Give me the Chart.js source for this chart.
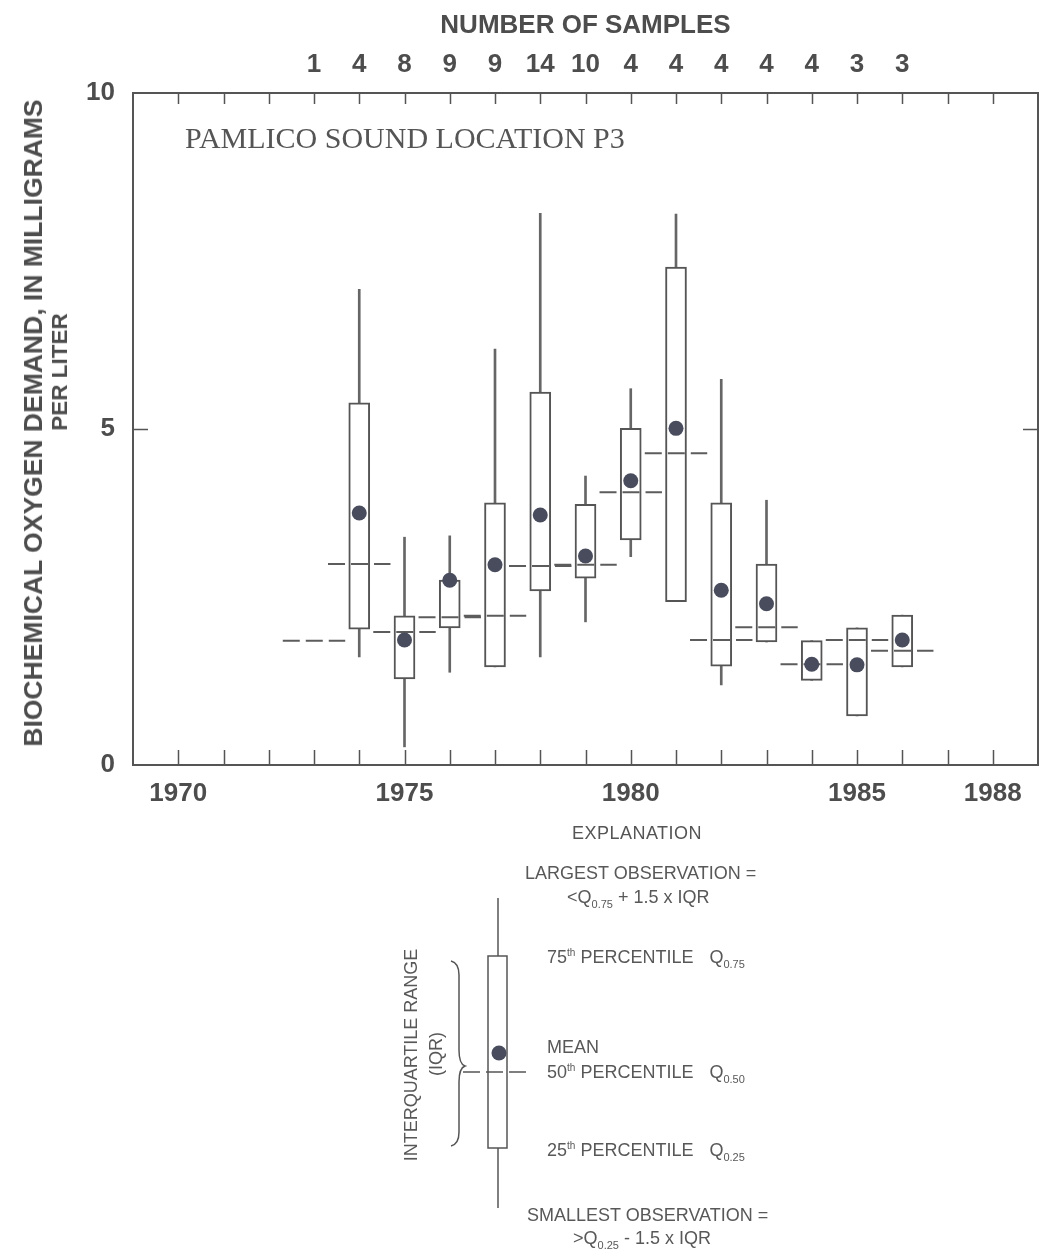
<!DOCTYPE html>
<html>
<head>
<meta charset="utf-8">
<title>Biochemical oxygen demand, Pamlico Sound location P3</title>
<script src="https://cdn.jsdelivr.net/npm/chart.js@4.4.1/dist/chart.umd.min.js"></script>
<style>
  html, body { margin: 0; padding: 0; background: #fff; }
  #page { position: relative; width: 1041px; height: 1254px; overflow: hidden;
          font-family: "Liberation Sans", Arial, sans-serif; color: #555; }
  #chart { position: absolute; left: 0; top: 0; }
  .ytitle { position: absolute; font-weight: bold; font-size: 26.5px; line-height: 30px; color: #4d4d4d;
            white-space: nowrap; transform: translate(-50%, -50%) rotate(-90deg); }
  .ytitle.second { font-size: 22.5px; }
  .site { position: absolute; font-family: "Liberation Serif", "DejaVu Serif", serif; font-size: 30px;
          line-height: 30px; color: #555; white-space: nowrap; }
  .ex { position: absolute; font-size: 18px; line-height: 22px; color: #585858; white-space: nowrap; }
  .ex sub { font-size: 11px; vertical-align: -5px; line-height: 0; }
  .ex sup { font-size: 10px; vertical-align: 7px; line-height: 0; }
  .ex .q { margin-left: 16px; }
  .exhead { position: absolute; left: 537px; width: 200px; text-align: center; font-size: 18px;
            letter-spacing: 0.5px; line-height: 20px; color: #555; }
  .rot { position: absolute; font-size: 18px; line-height: 22px; color: #585858; white-space: nowrap;
         transform: translate(-50%, -50%) rotate(-90deg); }
  #glyph { position: absolute; left: 0; top: 0; }
</style>
</head>
<body>
<div id="page">
  <canvas id="chart" width="1041" height="830"></canvas>

  <div class="ytitle" style="left:33px; top:423px;">BIOCHEMICAL OXYGEN DEMAND, IN MILLIGRAMS</div>
  <div class="ytitle second" style="left:60px; top:372px;">PER LITER</div>
  <div class="site" style="left:185px; top:123px;">PAMLICO SOUND LOCATION P3</div>

  <!-- Explanation of the box symbol -->
  <div class="exhead" style="top:823px;">EXPLANATION</div>
  <svg id="glyph" width="1041" height="1254" viewBox="0 0 1041 1254">
    <g stroke="#555" fill="none" stroke-width="1.5">
      <line x1="498" y1="898" x2="498" y2="956"/>
      <line x1="498" y1="1148" x2="498" y2="1208"/>
      <rect x="488" y="956" width="19" height="192" fill="#fff"/>
      <line x1="463" y1="1072" x2="527" y2="1072" stroke-dasharray="17 6"/>
      <path d="M451 961 Q459 963 459 975 L459 1050 Q459 1064 465 1066 Q459 1068 459 1082 L459 1132 Q459 1144 451 1146"/>
    </g>
    <circle cx="499" cy="1053" r="7.5" fill="#484c5c"/>
  </svg>
  <div class="rot" style="left:411px; top:1055px;">INTERQUARTILE RANGE</div>
  <div class="rot" style="left:436px; top:1054px;">(IQR)</div>

  <div class="ex" style="left:525px; top:862px;">LARGEST OBSERVATION =</div>
  <div class="ex" style="left:567px; top:886px;">&lt;Q<sub>0.75</sub> + 1.5 x IQR</div>
  <div class="ex" style="left:547px; top:946px;">75<sup>th</sup> PERCENTILE<span class="q">Q<sub>0.75</sub></span></div>
  <div class="ex" style="left:547px; top:1036px;">MEAN</div>
  <div class="ex" style="left:547px; top:1061px;">50<sup>th</sup> PERCENTILE<span class="q">Q<sub>0.50</sub></span></div>
  <div class="ex" style="left:547px; top:1139px;">25<sup>th</sup> PERCENTILE<span class="q">Q<sub>0.25</sub></span></div>
  <div class="ex" style="left:527px; top:1204px;">SMALLEST OBSERVATION =</div>
  <div class="ex" style="left:573px; top:1227px;">&gt;Q<sub>0.25</sub> - 1.5 x IQR</div>
</div>

<script>
// Sampling years and number of samples per year
const years   = [1973, 1974, 1975, 1976, 1977, 1978, 1979, 1980, 1981, 1982, 1983, 1984, 1985, 1986];
const samples = [1, 4, 8, 9, 9, 14, 10, 4, 4, 4, 4, 4, 3, 3];

// Box statistics, mg/L (null where not plotted)
const lowest  = [null, 1.61, 0.27, 1.38, 1.46, 1.61, 2.13, 3.10, 2.43, 1.19, 1.83, 1.26, 0.73, 1.46];
const q25     = [null, 2.02, 1.28, 2.04, 1.46, 2.59, 2.78, 3.35, 2.43, 1.47, 1.83, 1.26, 0.73, 1.46];
const medians = [1.85, 2.99, 1.98, 2.20, 2.22, 2.96, 2.98, 4.06, 4.64, 1.86, 2.05, 1.50, 1.86, 1.70];
const q75     = [null, 5.39, 2.22, 2.75, 3.90, 5.55, 3.88, 5.01, 7.41, 3.90, 2.99, 1.85, 2.04, 2.23];
const highest = [null, 7.08, 3.39, 3.41, 6.19, 8.21, 4.30, 5.60, 8.20, 5.74, 3.94, 1.85, 2.04, 2.23];
const means   = [null, 3.75, 1.86, 2.75, 2.98, 3.72, 3.11, 4.23, 5.01, 2.60, 2.40, 1.50, 1.49, 1.86];

// Axis tick labels
const yearLabels = [1970, 1975, 1980, 1985, 1988];
const yTicks = [0, 5, 10];

const INK = '#555';
const LABEL = '#4d4d4d';
const FONT = '"Liberation Sans", Arial, sans-serif';
const MEDIAN_HALF = 0.69; // half-length of the median dash, in years

const whiskerData = years.map((yr, i) => ({ x: yr, y: lowest[i] == null ? null : [lowest[i], highest[i]] }));
const boxData     = years.map((yr, i) => ({ x: yr, y: q25[i] == null ? null : [q25[i], q75[i]] }));
const meanData    = years.map((yr, i) => ({ x: yr, y: means[i] }));
const medianData  = [];
years.forEach((yr, i) => {
  medianData.push({ x: yr - MEDIAN_HALF, y: medians[i] },
                  { x: yr + MEDIAN_HALF, y: medians[i] },
                  { x: yr + MEDIAN_HALF, y: null });
});

// Plot frame with inward year ticks and the mid-range value tick
const framePlugin = {
  id: 'frame',
  beforeDatasetsDraw(chart) {
    const { ctx, chartArea: a, scales: { x, y } } = chart;
    ctx.save();
    ctx.strokeStyle = INK;
    ctx.lineWidth = 2;
    ctx.strokeRect(a.left, a.top, a.right - a.left, a.bottom - a.top);
    ctx.lineWidth = 1.5;
    ctx.beginPath();
    for (let yr = x.min + 1; yr < x.max; yr++) {
      const px = Math.round(x.getPixelForValue(yr)) + 0.5;
      ctx.moveTo(px, a.bottom); ctx.lineTo(px, a.bottom - 15);
      ctx.moveTo(px, a.top);    ctx.lineTo(px, a.top + 11);
    }
    yTicks.filter(v => v > y.min && v < y.max).forEach(v => {
      const py = Math.round(y.getPixelForValue(v)) + 0.5;
      ctx.moveTo(a.left, py);  ctx.lineTo(a.left + 15, py);
      ctx.moveTo(a.right, py); ctx.lineTo(a.right - 15, py);
    });
    ctx.stroke();
    ctx.restore();
  }
};

const tickFont = { family: FONT, size: 26, weight: 'bold' };

// Fixed band sizes for the axes; no extra edge padding on the year axes
const fitHorizontal = h => s => { s.height = h; s.paddingLeft = 0; s.paddingRight = 0; };

new Chart(document.getElementById('chart'), {
  type: 'bar',
  data: {
    datasets: [
      { type: 'bar', label: 'Range', data: whiskerData, xAxisID: 'x', yAxisID: 'y',
        grouped: false, barThickness: 2, backgroundColor: '#666', borderWidth: 0, order: 4 },
      { type: 'bar', label: 'Interquartile range', data: boxData, xAxisID: 'x', yAxisID: 'y',
        grouped: false, barThickness: 21, backgroundColor: '#fff', borderColor: INK,
        borderWidth: 2, borderSkipped: false, order: 3 },
      { type: 'line', label: 'Median', data: medianData, xAxisID: 'x', yAxisID: 'y',
        borderColor: '#5c5c5c', borderWidth: 2, borderDash: [17, 6], borderCapStyle: 'butt',
        pointRadius: 0, spanGaps: false, fill: false, order: 2 },
      { type: 'line', label: 'Mean', data: meanData, xAxisID: 'x', yAxisID: 'y',
        showLine: false, pointRadius: 7.5, pointHoverRadius: 7.5, pointBackgroundColor: '#484c5c',
        pointBorderColor: '#484c5c', pointBorderWidth: 0, order: 1 }
    ]
  },
  options: {
    responsive: false,
    animation: false,
    layout: { autoPadding: false, padding: { left: 0, right: 3, top: 0, bottom: 0 } },
    plugins: { legend: { display: false }, tooltip: { enabled: false } },
    scales: {
      x: {
        type: 'linear', position: 'bottom', min: 1969, max: 1989, offset: false,
        grid: { display: false, drawTicks: false }, border: { display: false },
        afterBuildTicks: s => { s.ticks = yearLabels.map(v => ({ value: v })); },
        afterFit: fitHorizontal(65),
        ticks: { font: tickFont, color: LABEL, padding: 13, autoSkip: false, maxRotation: 0,
                 callback: v => String(v) }
      },
      x2: {
        type: 'linear', position: 'top', min: 1969, max: 1989, offset: false,
        grid: { display: false, drawTicks: false }, border: { display: false },
        afterBuildTicks: s => { s.ticks = years.map(v => ({ value: v })); },
        afterFit: fitHorizontal(93),
        title: { display: true, text: 'NUMBER OF SAMPLES', font: tickFont, color: LABEL,
                 padding: { top: 10, bottom: 0 } },
        ticks: { font: tickFont, color: LABEL, padding: 13, autoSkip: false, maxRotation: 0,
                 callback: v => { const i = years.indexOf(v); return i >= 0 ? String(samples[i]) : ''; } }
      },
      y: {
        type: 'linear', position: 'left', min: 0, max: 10,
        grid: { display: false, drawTicks: false }, border: { display: false },
        afterBuildTicks: s => { s.ticks = yTicks.map(v => ({ value: v })); },
        afterFit: s => { s.width = 133; },
        ticks: { font: tickFont, color: LABEL, padding: 18, callback: v => String(v) }
      }
    }
  },
  plugins: [framePlugin]
});
</script>
</body>
</html>
